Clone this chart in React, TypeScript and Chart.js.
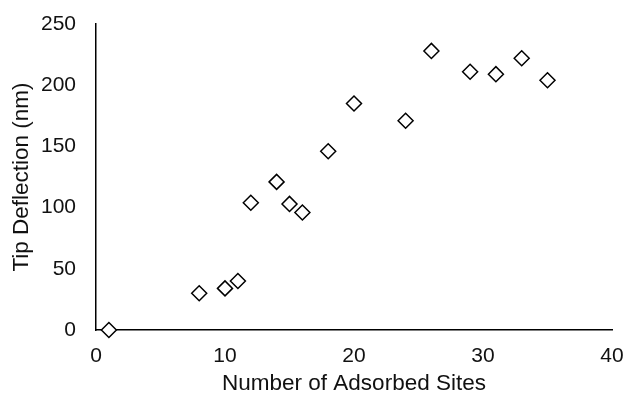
import React, { useEffect, useRef } from "react";
import { Chart, registerables } from "chart.js";

Chart.register(...registerables);

const sites: number[] = [1, 8, 10, 11, 12, 14, 15, 16, 18, 20, 24, 26, 29, 31, 33, 35];
const deflection: number[] = [0, 30, 34, 40, 104, 121, 103, 96, 146, 185, 171, 228, 211, 209, 222, 204];
const xTitle = "Number of Adsorbed Sites";
const yTitle = "Tip Deflection (nm)";

const FONT = "'Liberation Sans', Arial, Helvetica, sans-serif";
const TEXT = "#111";

export default function App() {
  const ref = useRef<HTMLCanvasElement | null>(null);

  useEffect(() => {
    if (!ref.current) return;
    const data = sites.map((x, i) => ({ x, y: deflection[i] }));
    const chart = new Chart(ref.current, {
      type: "scatter",
      data: {
        datasets: [
          {
            data,
            pointStyle: "rectRot",
            pointRadius: 7.5,
            pointHoverRadius: 7.5,
            borderWidth: 1.5,
            borderColor: "#000",
            backgroundColor: "#fff",
            clip: false,
          } as any,
        ],
      },
      options: {
        animation: false,
        responsive: false,
        maintainAspectRatio: false,
        events: [],
        layout: { padding: { left: 0, right: 14, top: 24, bottom: 0 } },
        plugins: { legend: { display: false }, tooltip: { enabled: false } },
        scales: {
          x: {
            type: "linear",
            min: 0,
            max: 40,
            ticks: { stepSize: 10, color: TEXT, font: { family: FONT, size: 21 }, padding: 14 },
            grid: { display: false, drawTicks: false },
            border: { display: true, color: "#000", width: 1.5 },
            title: {
              display: true,
              text: xTitle,
              color: TEXT,
              font: { family: FONT, size: 22.5, lineHeight: 1 },
              padding: { top: 0, bottom: 0 },
            },
            afterFit: (s: any) => {
              s.height = 65;
              s.paddingLeft = 0;
              s.paddingRight = 0;
            },
          },
          y: {
            type: "linear",
            min: 0,
            max: 250,
            ticks: { stepSize: 50, color: TEXT, font: { family: FONT, size: 21 }, padding: 20 },
            grid: { display: false, drawTicks: false },
            border: { display: true, color: "#000", width: 1.5 },
            title: {
              display: true,
              text: yTitle,
              color: TEXT,
              font: { family: FONT, size: 22.5, lineHeight: 1 },
              padding: { top: 11, bottom: 0 },
            },
            afterFit: (s: any) => {
              s.width = 96;
              s.paddingTop = 0;
              s.paddingBottom = 0;
            },
          },
        },
      },
    });
    return () => chart.destroy();
  }, []);

  return (
    <div style={{ position: "fixed", left: 0, top: 0, width: 626, height: 395, background: "#fff" }}>
      <canvas ref={ref} width={626} height={395} style={{ width: 626, height: 395 }} />
    </div>
  );
}
